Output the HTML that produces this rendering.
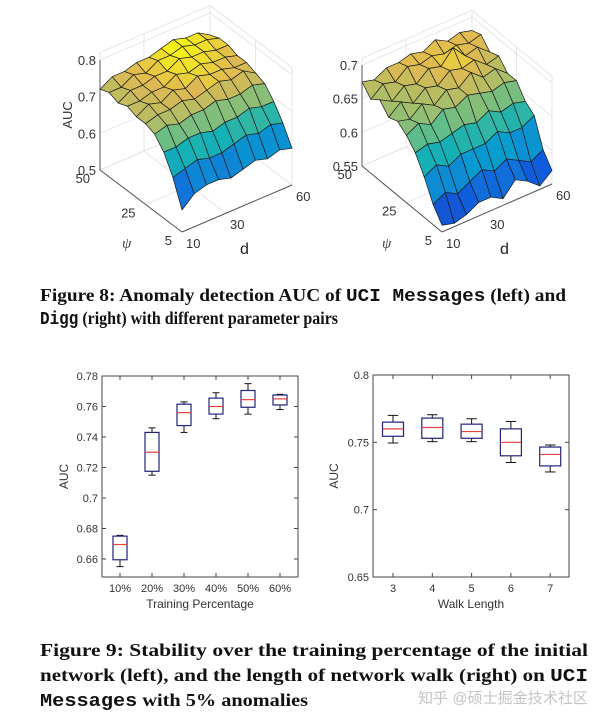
<!DOCTYPE html>
<html><head><meta charset="utf-8"><style>
html,body{margin:0;padding:0;background:#fff;}
svg{display:block;}
.tk{font-family:"Liberation Sans",sans-serif;font-size:11px;fill:#333;}
.tk3{font-family:"Liberation Sans",sans-serif;font-size:13px;fill:#333;}
.cap{font-family:"Liberation Serif",serif;font-weight:bold;font-size:18px;fill:#111;}
.mono{font-family:"Liberation Mono",monospace;font-weight:bold;}
</style></head><body>
<svg id="root" width="604" height="723" viewBox="0 0 604 723" xmlns="http://www.w3.org/2000/svg">
<g id="s3dL"></g>
<g id="s3dR"></g>
<g id="boxL"></g>
<g id="boxR"></g>
<text class="cap" x="40" y="301" textLength="526" lengthAdjust="spacingAndGlyphs">Figure 8: Anomaly detection AUC of <tspan class="mono">UCI Messages</tspan> (left) and</text>
<text class="cap" x="40" y="324" textLength="298" lengthAdjust="spacingAndGlyphs"><tspan class="mono">Digg</tspan> (right) with different parameter pairs</text>
<text class="cap" x="40" y="656" textLength="548" lengthAdjust="spacingAndGlyphs">Figure 9: Stability over the training percentage of the initial</text>
<text class="cap" x="40" y="681" textLength="548" lengthAdjust="spacingAndGlyphs">network (left), and the length of network walk (right) on <tspan class="mono">UCI</tspan></text>
<text class="cap" x="40" y="706" textLength="268" lengthAdjust="spacingAndGlyphs"><tspan class="mono">Messages</tspan> with 5% anomalies</text>
<text x="418" y="703" textLength="170" lengthAdjust="spacingAndGlyphs" style="font-family:'Liberation Sans','Noto Sans CJK SC',sans-serif;font-size:15px;fill:#c4c4c4">知乎 @硕士掘金技术社区</text>
</svg>
<script>
const NS="http://www.w3.org/2000/svg";
const psiTicks=[5,25,50];
const dTicks=[10,30,60];
const zTicksL=[0.5,0.6,0.7,0.8];
const zTicksR=[0.55,0.6,0.65,0.7];
const surfL=[
[.56,.59,.60,.60,.59,.60,.61,.60,.61,.60],
[.63,.64,.65,.64,.64,.65,.66,.65,.66,.65],
[.68,.68,.69,.69,.68,.69,.69,.70,.69,.69],
[.71,.72,.71,.72,.72,.73,.72,.72,.73,.72],
[.72,.73,.73,.74,.73,.74,.75,.74,.75,.73],
[.72,.74,.73,.75,.74,.76,.75,.75,.74,.74],
[.73,.73,.74,.74,.76,.75,.76,.75,.75,.74],
[.72,.74,.74,.75,.75,.77,.76,.76,.75,.75],
[.73,.73,.75,.74,.76,.76,.77,.76,.76,.75],
[.72,.74,.74,.75,.75,.76,.77,.76,.76,.74]];
const surfR=[
[.56,.555,.56,.57,.57,.56,.58,.57,.555,.57],
[.58,.59,.58,.59,.60,.59,.60,.59,.58,.59],
[.61,.62,.61,.62,.62,.62,.63,.62,.62,.63],
[.635,.64,.635,.64,.645,.64,.65,.64,.645,.64],
[.65,.66,.65,.665,.66,.67,.665,.66,.665,.66],
[.66,.655,.67,.66,.675,.67,.685,.67,.675,.66],
[.655,.67,.66,.675,.67,.685,.68,.685,.67,.675],
[.67,.66,.675,.67,.685,.68,.70,.68,.685,.67],
[.66,.675,.67,.685,.68,.685,.68,.685,.68,.685],
[.675,.67,.68,.68,.685,.68,.69,.68,.685,.68]];
const catsL=["10%","20%","30%","40%","50%","60%"];
const lowL=[.655,.715,.743,.752,.755,.758];
const q1L=[.6595,.7175,.7475,.755,.7595,.761];
const medL=[.6695,.730,.756,.760,.7645,.765];
const q3L=[.675,.743,.7615,.7655,.7705,.7675];
const highL=[.6755,.746,.763,.769,.775,.768];
const yTicksL=[0.66,0.68,0.7,0.72,0.74,0.76,0.78];
const yTickLabelsL=["0.66","0.68","0.7","0.72","0.74","0.76","0.78"];
const catsR=["3","4","5","6","7"];
const lowR=[.7495,.7505,.7505,.735,.728];
const q1R=[.7545,.753,.753,.740,.7325];
const medR=[.760,.761,.758,.750,.741];
const q3R=[.765,.768,.7635,.760,.7465];
const highR=[.770,.7705,.7675,.7655,.748];
const yTicksR=[0.65,0.7,0.75,0.8];
const yTickLabelsR=["0.65","0.7","0.75","0.8"];

function mk(tag,attrs,parent,txt){const e=document.createElementNS(NS,tag);for(const k in attrs)e.setAttribute(k,attrs[k]);if(txt!==undefined)e.textContent=txt;parent.appendChild(e);return e;}
const PAR=[[0,[53,42,135]],[.125,[15,92,221]],[.25,[18,125,216]],[.375,[7,156,207]],[.5,[21,177,180]],[.625,[89,189,140]],[.75,[165,190,107]],[.875,[225,185,82]],[1,[249,251,14]]];
function parula(t){t=Math.max(0,Math.min(1,t));for(let i=1;i<PAR.length;i++){if(t<=PAR[i][0]){const a=PAR[i-1],b=PAR[i];const f=(t-a[0])/(b[0]-a[0]);const c=a[1].map((v,k)=>Math.round(v+(b[1][k]-v)*f));return `rgb(${c})`;}}return "rgb(249,251,14)";}

function surface(g,Z,cfg){
  const P=(d,psi,z)=>[cfg.ox+(d-10)/50*cfg.dv[0]+(psi-5)/45*cfg.pv[0], cfg.oy+(d-10)/50*cfg.dv[1]+(psi-5)/45*cfg.pv[1]-(z-cfg.z0)*cfg.k];
  const n=Z.length,m=Z[0].length;
  const ps=i=>5+45*i/(n-1), ds=j=>10+50*j/(m-1);
  let zmin=Infinity,zmax=-Infinity;Z.forEach(r=>r.forEach(v=>{zmin=Math.min(zmin,v);zmax=Math.max(zmax,v);}));
  const top=cfg.zt[cfg.zt.length-1]+cfg.ext;
  const gl=(a,b,c)=>{const l=mk('line',{x1:a[0],y1:a[1],x2:b[0],y2:b[1],stroke:c||'#e6e6e6','stroke-width':1},g);};
  cfg.zt.forEach(z=>{gl(P(10,50,z),P(60,50,z));gl(P(60,50,z),P(60,5,z));});
  dTicks.forEach(d=>{gl(P(d,5,cfg.z0),P(d,50,cfg.z0));gl(P(d,50,cfg.z0),P(d,50,top));});
  psiTicks.forEach(p=>{gl(P(10,p,cfg.z0),P(60,p,cfg.z0));gl(P(60,p,cfg.z0),P(60,p,top));});
  gl(P(10,50,top),P(60,50,top));gl(P(60,50,top),P(60,5,top));
  const quads=[];
  for(let i=0;i<n-1;i++)for(let j=0;j<m-1;j++)quads.push([i,j]);
  quads.sort((a,b)=>(b[0]+b[1])-(a[0]+a[1]));
  quads.forEach(([i,j])=>{
    const c=[[i,j],[i,j+1],[i+1,j+1],[i+1,j]];
    const pts=c.map(([a,b])=>P(ds(b),ps(a),Z[a][b]));
    const avg=c.reduce((s,[a,b])=>s+Z[a][b],0)/4;
    const q=mk('polygon',{points:pts.map(p=>p.join(',')).join(' '),fill:parula((avg-zmin)/(zmax-zmin)),stroke:'#1a1a1a','stroke-width':0.7,'stroke-linejoin':'round'},g);
    
    
  });
  const ax=(a,b)=>{const l=mk('line',{x1:a[0],y1:a[1],x2:b[0],y2:b[1],stroke:'#555','stroke-width':1},g);};
  ax(P(10,5,cfg.z0),P(60,5,cfg.z0));ax(P(10,5,cfg.z0),P(10,50,cfg.z0));ax(P(10,50,cfg.z0),P(10,50,cfg.zt[cfg.zt.length-1]));
  cfg.zt.forEach((z,i)=>{const p=P(10,50,z);const t=mk('text',{x:p[0]-4,y:p[1]+5,'text-anchor':'end',class:'tk3'},g,cfg.zl[i]);});
  psiTicks.forEach(v=>{const p=P(10,v,cfg.z0);const t=mk('text',{x:p[0]-10,y:p[1]+13,'text-anchor':'end',class:'tk3'},g,String(v));});
  dTicks.forEach(v=>{const p=P(v,5,cfg.z0);const t=mk('text',{x:p[0]+4,y:p[1]+16,class:'tk3'},g,String(v));});
  const o=P(10,5,cfg.z0);
  let t=mk('text',{x:o[0]+58,y:o[1]+22,style:'font-family:"Liberation Sans",sans-serif;font-size:16px;fill:#222'},g,'d');
  t=mk('text',{x:o[0]-60,y:o[1]+16,style:'font-family:"Liberation Serif",serif;font-style:italic;font-size:15px;fill:#444'},g,'ψ');
  if(cfg.auc){const q=P(10,50,(cfg.z0+cfg.zt[cfg.zt.length-1])/2);t=mk('text',{x:q[0]-28,y:q[1],transform:`rotate(-90 ${q[0]-28} ${q[1]})`,'text-anchor':'middle',class:'tk3'},g,'AUC');}
}
surface(document.getElementById('s3dL'),surfL,{ox:182,oy:232,dv:[110,-47],pv:[-82,-62],z0:0.5,k:367,zt:zTicksL,zl:["0.5","0.6","0.7","0.8"],auc:true,ext:0.02});
surface(document.getElementById('s3dR'),surfR,{ox:442,oy:232,dv:[110,-48],pv:[-80,-66],z0:0.55,k:673,zt:zTicksR,zl:["0.55","0.6","0.65","0.7"],auc:false,ext:0.01});

function boxplot(g,cfg){
  const y=v=>cfg.y1+(v-cfg.v1)/(cfg.v0-cfg.v1)*(cfg.y0-cfg.y1);
  const x=i=>cfg.cx0+i*cfg.step;
  let r=mk('rect',{x:cfg.x0,y:cfg.ytop,width:cfg.x1-cfg.x0,height:cfg.ybot-cfg.ytop,fill:'none',stroke:'#444','stroke-width':1},g);
  
  cfg.yt.forEach((v,i)=>{const yy=y(v);
    mk('line',{x1:cfg.x0,y1:yy,x2:cfg.x0+4,y2:yy,stroke:'#444'},g);mk('line',{x1:cfg.x1,y1:yy,x2:cfg.x1-4,y2:yy,stroke:'#444'},g);
    const t=mk('text',{x:cfg.x0-4,y:yy+4,'text-anchor':'end',class:'tk'},g,cfg.ytl[i]);});
  cfg.cats.forEach((c,i)=>{const xx=x(i);
    mk('line',{x1:xx,y1:cfg.ybot,x2:xx,y2:cfg.ybot-4,stroke:'#444'},g);mk('line',{x1:xx,y1:cfg.ytop,x2:xx,y2:cfg.ytop+4,stroke:'#444'},g);
    const t=mk('text',{x:xx,y:cfg.ybot+15,'text-anchor':'middle',class:'tk'},g,c);
    const bg=mk('g',{},g);
    const w=cfg.bw/2,cw=cfg.bw/4;
    mk('line',{x1:xx,y1:y(cfg.low[i]),x2:xx,y2:y(cfg.q1[i]),stroke:'#111'},bg);
    mk('line',{x1:xx,y1:y(cfg.high[i]),x2:xx,y2:y(cfg.q3[i]),stroke:'#111'},bg);
    mk('line',{x1:xx-cw,y1:y(cfg.low[i]),x2:xx+cw,y2:y(cfg.low[i]),stroke:'#111'},bg);
    mk('line',{x1:xx-cw,y1:y(cfg.high[i]),x2:xx+cw,y2:y(cfg.high[i]),stroke:'#111'},bg);
    mk('rect',{x:xx-w,y:y(cfg.q3[i]),width:cfg.bw,height:y(cfg.q1[i])-y(cfg.q3[i]),fill:'none',stroke:'#22227a','stroke-width':1.2},bg);
    mk('line',{x1:xx-w,y1:y(cfg.med[i]),x2:xx+w,y2:y(cfg.med[i]),stroke:'#e04040','stroke-width':1.2},bg);
  });
  let t=mk('text',{x:cfg.ylabx,y:(cfg.ytop+cfg.ybot)/2,transform:`rotate(-90 ${cfg.ylabx} ${(cfg.ytop+cfg.ybot)/2})`,'text-anchor':'middle',class:'tk',style:'font-size:12px'},g,'AUC');
  t=mk('text',{x:(cfg.x0+cfg.x1)/2,y:cfg.ybot+31,'text-anchor':'middle',class:'tk',style:'font-size:12px'},g,cfg.xlab);
}
boxplot(document.getElementById('boxL'),{x0:102,x1:298,ytop:376,ybot:577,v1:0.78,y1:376,v0:0.66,y0:559,cx0:120,step:32,bw:14,yt:yTicksL,ytl:yTickLabelsL,cats:catsL,low:lowL,q1:q1L,med:medL,q3:q3L,high:highL,ylabx:68,xlab:'Training Percentage'});
boxplot(document.getElementById('boxR'),{x0:373,x1:569,ytop:375,ybot:577,v1:0.8,y1:375,v0:0.65,y0:577,cx0:393,step:39.3,bw:21,yt:yTicksR,ytl:yTickLabelsR,cats:catsR,low:lowR,q1:q1R,med:medR,q3:q3R,high:highR,ylabx:338,xlab:'Walk Length'});
</script>
</body></html>
